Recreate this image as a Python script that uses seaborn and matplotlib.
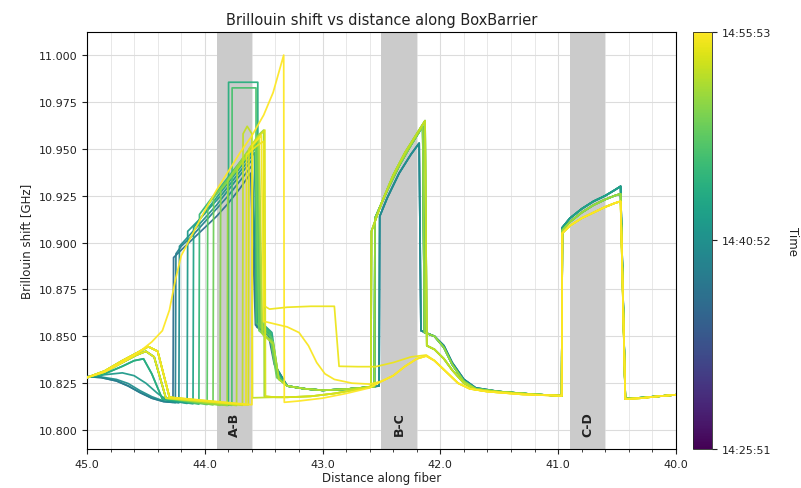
import matplotlib
matplotlib.use("Agg")
import matplotlib.pyplot as plt
import matplotlib.ticker as mticker
from matplotlib.colors import Normalize
from matplotlib.cm import ScalarMappable
import seaborn as sns
import pandas as pd

# ---------------- data ----------------
# colour scale: fraction of the scan window 14:25:51 -> 14:55:53
CBAR_TICKS = [0.0, 0.5, 1.0]
CBAR_LABELS = ["14:25:51", "14:40:52", "14:55:53"]

SECTIONS = ["A-B", "B-C", "C-D"]
SECTION_START = [43.9, 42.5, 40.9]
SECTION_END = [43.6, 42.2, 40.6]

# head pieces (45.0 -> ~44.3)
HEAD_DIP_X = [45.0, 44.88, 44.75, 44.65, 44.55, 44.45, 44.35]
HEAD_DIP_Y = [10.8285, 10.8280, 10.8262, 10.8235, 10.8200, 10.8170, 10.8152]
HEAD_DIP2_X = [45.0, 44.88, 44.75, 44.65, 44.55, 44.45, 44.35]
HEAD_DIP2_Y = [10.8285, 10.8283, 10.8270, 10.8248, 10.8210, 10.8178, 10.8155]
HEAD_FLAT_X = [45.0, 44.85, 44.7, 44.6, 44.5, 44.4, 44.32]
HEAD_FLAT_Y = [10.828, 10.8295, 10.8305, 10.829, 10.825, 10.8195, 10.816]
HEAD_HUMP1_X = [45.0, 44.85, 44.7, 44.6, 44.52, 44.45, 44.36]
HEAD_HUMP1_Y = [10.828, 10.830, 10.834, 10.837, 10.838, 10.830, 10.8165]
HEAD_HUMP2_X = [45.0, 44.85, 44.7, 44.58, 44.5, 44.43, 44.33]
HEAD_HUMP2_Y = [10.828, 10.831, 10.836, 10.840, 10.842, 10.839, 10.817]
HEAD_HUMP3_X = [45.0, 44.85, 44.7, 44.58, 44.48, 44.4, 44.3]
HEAD_HUMP3_Y = [10.828, 10.8315, 10.837, 10.841, 10.8445, 10.842, 10.8175]
HEAD_RISE_X = [45.0, 44.85, 44.7, 44.55, 44.45, 44.36, 44.3, 44.25, 44.2]
HEAD_RISE_Y = [10.828, 10.831, 10.836, 10.842, 10.847, 10.853, 10.864, 10.880, 10.893]

# A-B section pieces, one per trace
AB_T1_X = [44.27, 44.265, 44.2, 44.1, 44.0, 43.9, 43.8, 43.7, 43.61, 43.57, 43.46, 43.41]
AB_T1_Y = [10.8148, 10.892, 10.896, 10.902, 10.908, 10.914, 10.921, 10.929, 10.937, 10.856, 10.851, 10.835]
AB_T2_X = [44.25, 44.245, 44.2, 44.1, 44.0, 43.9, 43.8, 43.7, 43.6, 43.56, 43.45, 43.40]
AB_T2_Y = [10.8146, 10.894, 10.898, 10.904, 10.911, 10.918, 10.925, 10.933, 10.941, 10.855, 10.850, 10.834]
AB_T3_X = [44.22, 44.215, 44.1, 44.0, 43.9, 43.8, 43.7, 43.6, 43.55, 43.45, 43.39]
AB_T3_Y = [10.8145, 10.898, 10.906, 10.913, 10.920, 10.928, 10.936, 10.944, 10.857, 10.852, 10.833]
AB_T4_X = [44.15, 44.145, 44.05, 43.95, 43.85, 43.75, 43.65, 43.58, 43.55, 43.44, 43.39]
AB_T4_Y = [10.8142, 10.906, 10.912, 10.919, 10.926, 10.934, 10.942, 10.948, 10.856, 10.850, 10.832]
AB_T5_X = [44.10, 44.095, 44.0, 43.9, 43.8, 43.7, 43.6, 43.56, 43.53, 43.43, 43.38]
AB_T5_Y = [10.814, 10.908, 10.916, 10.924, 10.932, 10.940, 10.948, 10.951, 10.858, 10.852, 10.830]
AB_BOX1_X = [43.80, 43.798, 43.55, 43.548, 43.44, 43.38]
AB_BOX1_Y = [10.8132, 10.9855, 10.9855, 10.856, 10.851, 10.829]
AB_BOX2_X = [43.77, 43.768, 43.565, 43.563, 43.45, 43.39]
AB_BOX2_Y = [10.8132, 10.9825, 10.9825, 10.857, 10.852, 10.830]
AB_T7_X = [44.05, 44.045, 43.95, 43.85, 43.75, 43.65, 43.57, 43.54, 43.44, 43.39]
AB_T7_Y = [10.8138, 10.915, 10.923, 10.931, 10.939, 10.947, 10.953, 10.858, 10.852, 10.830]
AB_T8_X = [43.98, 43.975, 43.9, 43.8, 43.7, 43.6, 43.56, 43.53, 43.43, 43.38]
AB_T8_Y = [10.8136, 10.920, 10.926, 10.934, 10.942, 10.950, 10.953, 10.855, 10.849, 10.828]
AB_T9_X = [43.93, 43.925, 43.85, 43.75, 43.65, 43.57, 43.54, 43.44, 43.39]
AB_T9_Y = [10.8134, 10.924, 10.930, 10.938, 10.946, 10.952, 10.853, 10.848, 10.828]
AB_T10_X = [43.87, 43.865, 43.8, 43.7, 43.6, 43.55, 43.52, 43.42, 43.37]
AB_T10_Y = [10.8132, 10.928, 10.933, 10.941, 10.950, 10.955, 10.852, 10.847, 10.827]
AB_T11_X = [43.81, 43.805, 43.7, 43.6, 43.55, 43.50, 43.495, 43.4]
AB_T11_Y = [10.8131, 10.933, 10.943, 10.952, 10.957, 10.960, 10.818, 10.8175]
AB_T12_X = [43.73, 43.725, 43.65, 43.6, 43.54, 43.51, 43.42, 43.37]
AB_T12_Y = [10.8131, 10.939, 10.946, 10.951, 10.956, 10.851, 10.846, 10.827]
AB_T13_X = [43.68, 43.675, 43.64, 43.60, 43.595, 43.4]
AB_T13_Y = [10.8132, 10.958, 10.962, 10.958, 10.8172, 10.8175]
AB_T14_X = [43.63, 43.625, 43.55, 43.49, 43.485, 43.4]
AB_T14_Y = [10.8134, 10.950, 10.956, 10.960, 10.818, 10.8175]
AB_T15_X = [43.65, 43.645, 43.55, 43.50, 43.49, 43.45, 43.3, 43.1, 42.9, 42.88, 42.86, 42.7, 42.55]
AB_T15_Y = [10.8134, 10.947, 10.952, 10.954, 10.866, 10.8645, 10.8655, 10.866, 10.866, 10.850, 10.834, 10.8338, 10.8338]
AB_T16_X = [43.60, 43.595, 43.52, 43.50, 43.3, 43.2, 43.12, 43.05, 42.98, 42.9, 42.75, 42.6]
AB_T16_Y = [10.8135, 10.952, 10.957, 10.858, 10.855, 10.852, 10.845, 10.836, 10.830, 10.827, 10.825, 10.8245]
AB_T17_X = [44.1, 44.0, 43.9, 43.8, 43.7, 43.6, 43.5, 43.42, 43.33, 43.325, 43.2, 43.0, 42.8, 42.6]
AB_T17_Y = [10.905, 10.917, 10.928, 10.938, 10.948, 10.957, 10.968, 10.980, 11.000, 10.8148, 10.8155, 10.817, 10.8195, 10.8225]

# between A-B and B-C
MID_X = [43.30, 43.15, 43.0, 42.8, 42.62]
MID_Y = [10.8235, 10.822, 10.8212, 10.8218, 10.8228]
MID2_X = [43.3, 43.1, 42.9, 42.75, 42.62]
MID2_Y = [10.8175, 10.818, 10.8195, 10.8212, 10.8228]

# B-C section pieces
BC1_X = [42.52, 42.515, 42.45, 42.35, 42.25, 42.18, 42.165, 42.05, 41.97, 41.9, 41.8, 41.7, 41.5, 41.2, 40.98]
BC1_Y = [10.8235, 10.914, 10.924, 10.937, 10.947, 10.953, 10.853, 10.850, 10.845, 10.836, 10.827, 10.8225, 10.8205, 10.819, 10.8183]
BC2_X = [42.56, 42.555, 42.45, 42.35, 42.25, 42.15, 42.135, 42.05, 41.97, 41.9, 41.8, 41.7, 41.5, 41.2, 40.98]
BC2_Y = [10.823, 10.913, 10.928, 10.941, 10.952, 10.962, 10.852, 10.850, 10.844, 10.835, 10.826, 10.822, 10.8205, 10.819, 10.8183]
BC3_X = [42.59, 42.585, 42.5, 42.4, 42.3, 42.2, 42.13, 42.115, 42.05, 41.97, 41.9, 41.8, 41.7, 41.5, 41.2, 40.98]
BC3_Y = [10.8229, 10.906, 10.921, 10.936, 10.948, 10.958, 10.965, 10.845, 10.843, 10.838, 10.832, 10.825, 10.8215, 10.8203, 10.819, 10.8183]
BCY_X = [42.5, 42.4, 42.3, 42.2, 42.12, 42.05, 41.95, 41.85, 41.75, 41.6, 41.3, 40.98]
BCY_Y = [10.826, 10.829, 10.834, 10.838, 10.8395, 10.837, 10.831, 10.825, 10.822, 10.8205, 10.819, 10.8183]
BCY2_X = [42.4, 42.25, 42.12, 42.05, 41.95, 41.85, 41.75, 41.6, 41.3, 40.98]
BCY2_Y = [10.836, 10.839, 10.840, 10.837, 10.831, 10.825, 10.822, 10.8205, 10.819, 10.8183]

# C-D section pieces
CD_X = [40.97, 40.965, 40.9, 40.8, 40.7, 40.6, 40.52, 40.47, 40.43, 40.3, 40.15, 40.0]
CD1_Y = [10.8182, 10.908, 10.913, 10.918, 10.922, 10.925, 10.928, 10.930, 10.8168, 10.8172, 10.818, 10.8188]
CD2_Y = [10.8182, 10.9065, 10.911, 10.916, 10.920, 10.923, 10.925, 10.926, 10.8168, 10.8172, 10.818, 10.8188]
CD3_Y = [10.8182, 10.905, 10.909, 10.913, 10.916, 10.919, 10.921, 10.922, 10.8165, 10.817, 10.818, 10.8188]

# trace times (colour) and the pieces each trace is made of
TRACE_TIME = [0.36, 0.43, 0.49, 0.54, 0.58, 0.63, 0.67, 0.71, 0.74, 0.78,
              0.82, 0.85, 0.88, 0.91, 0.94, 0.97, 0.99, 1.00]
TRACE_PIECES = [
    [(HEAD_DIP_X, HEAD_DIP_Y), (AB_T1_X, AB_T1_Y), (MID_X, MID_Y), (BC1_X, BC1_Y), (CD_X, CD1_Y)],
    [(HEAD_DIP_X, HEAD_DIP_Y), (AB_T2_X, AB_T2_Y), (MID_X, MID_Y), (BC1_X, BC1_Y), (CD_X, CD1_Y)],
    [(HEAD_DIP2_X, HEAD_DIP2_Y), (AB_T3_X, AB_T3_Y), (MID_X, MID_Y), (BC1_X, BC1_Y), (CD_X, CD1_Y)],
    [(HEAD_FLAT_X, HEAD_FLAT_Y), (AB_T4_X, AB_T4_Y), (MID_X, MID_Y), (BC2_X, BC2_Y), (CD_X, CD1_Y)],
    [(HEAD_HUMP1_X, HEAD_HUMP1_Y), (AB_T5_X, AB_T5_Y), (MID_X, MID_Y), (BC2_X, BC2_Y), (CD_X, CD1_Y)],
    [(HEAD_HUMP1_X, HEAD_HUMP1_Y), (AB_BOX1_X, AB_BOX1_Y), (MID_X, MID_Y), (BC2_X, BC2_Y), (CD_X, CD2_Y)],
    [(HEAD_HUMP2_X, HEAD_HUMP2_Y), (AB_T7_X, AB_T7_Y), (MID_X, MID_Y), (BC2_X, BC2_Y), (CD_X, CD2_Y)],
    [(HEAD_HUMP2_X, HEAD_HUMP2_Y), (AB_BOX2_X, AB_BOX2_Y), (MID_X, MID_Y), (BC3_X, BC3_Y), (CD_X, CD2_Y)],
    [(HEAD_HUMP2_X, HEAD_HUMP2_Y), (AB_T8_X, AB_T8_Y), (MID_X, MID_Y), (BC2_X, BC2_Y), (CD_X, CD2_Y)],
    [(HEAD_HUMP3_X, HEAD_HUMP3_Y), (AB_T9_X, AB_T9_Y), (MID_X, MID_Y), (BC3_X, BC3_Y), (CD_X, CD2_Y)],
    [(HEAD_HUMP3_X, HEAD_HUMP3_Y), (AB_T10_X, AB_T10_Y), (MID_X, MID_Y), (BC3_X, BC3_Y), (CD_X, CD2_Y)],
    [(HEAD_HUMP2_X, HEAD_HUMP2_Y), (AB_T11_X, AB_T11_Y), (MID2_X, MID2_Y), (BC2_X, BC2_Y), (CD_X, CD2_Y)],
    [(HEAD_HUMP3_X, HEAD_HUMP3_Y), (AB_T12_X, AB_T12_Y), (MID_X, MID_Y), (BC3_X, BC3_Y), (CD_X, CD3_Y)],
    [(HEAD_HUMP3_X, HEAD_HUMP3_Y), (AB_T13_X, AB_T13_Y), (MID2_X, MID2_Y), (BC3_X, BC3_Y), (CD_X, CD3_Y)],
    [(HEAD_HUMP3_X, HEAD_HUMP3_Y), (AB_T14_X, AB_T14_Y), (MID2_X, MID2_Y), (BCY_X, BCY_Y), (CD_X, CD3_Y)],
    [(HEAD_HUMP2_X, HEAD_HUMP2_Y), (AB_T15_X, AB_T15_Y), (BCY2_X, BCY2_Y), (CD_X, CD3_Y)],
    [(HEAD_HUMP3_X, HEAD_HUMP3_Y), (AB_T16_X, AB_T16_Y), (BCY_X, BCY_Y), (CD_X, CD3_Y)],
    [(HEAD_RISE_X, HEAD_RISE_Y), (AB_T17_X, AB_T17_Y), (BCY_X, BCY_Y), (CD_X, CD3_Y)],
]

# ---------------- build long table ----------------
rows = []
for i, (t, pieces) in enumerate(zip(TRACE_TIME, TRACE_PIECES)):
    order = 0
    for xs, ys in pieces:
        for x, y in zip(xs, ys):
            rows.append({"trace": i, "time": t, "dist": x, "shift": y, "order": order})
            order += 1
df = pd.DataFrame(rows)

# ---------------- plot ----------------
sns.set_style("white")
plt.rcParams["font.family"] = ["DejaVu Sans"]
plt.rcParams["text.color"] = "#222222"
plt.rcParams["axes.labelcolor"] = "#222222"
plt.rcParams["xtick.color"] = "#222222"
plt.rcParams["ytick.color"] = "#222222"

fig = plt.figure(figsize=(8.01, 4.89), dpi=100)
ax = fig.add_axes([0.1086, 0.0798, 0.7353, 0.8527])
cax = fig.add_axes([0.8652, 0.0798, 0.0237, 0.8527])

for s, e, name in zip(SECTION_START, SECTION_END, SECTIONS):
    ax.axvspan(s, e, color="#cbcbcb", zorder=1, lw=0)
    ax.text((s + e) / 2, 10.8035, name, rotation=90, ha="center", va="center",
            fontsize=9, fontweight="bold", zorder=5)

sns.lineplot(data=df, x="dist", y="shift", hue="time", palette="viridis",
             hue_norm=(0, 1), units="trace", estimator=None, sort=False,
             legend=False, linewidth=1.25, alpha=0.95, ax=ax, zorder=3)

ax.set_xlim(45.0, 40.0)
ax.set_ylim(10.7899, 11.0123)
ax.xaxis.set_major_locator(mticker.MultipleLocator(1.0))
ax.xaxis.set_minor_locator(mticker.MultipleLocator(0.2))
ax.xaxis.set_major_formatter(mticker.FormatStrFormatter("%.1f"))
ax.yaxis.set_major_locator(mticker.MultipleLocator(0.025))
ax.yaxis.set_major_formatter(mticker.FormatStrFormatter("%.3f"))
ax.grid(which="major", color="#dcdcdc", lw=0.8, zorder=0)
ax.grid(which="minor", axis="x", color="#e8e8e8", lw=0.7, zorder=0)
ax.set_axisbelow(True)
ax.tick_params(axis="both", which="major", labelsize=8, length=3.5, bottom=True, left=True)
ax.tick_params(axis="x", which="minor", length=2, bottom=True)
for sp in ax.spines.values():
    sp.set_color("black")
    sp.set_linewidth(0.8)

ax.set_xlabel("Distance along fiber", fontsize=8.5, labelpad=2)
ax.set_ylabel("Brillouin shift [GHz]", fontsize=8.5, labelpad=4)
ax.set_title("Brillouin shift vs distance along BoxBarrier", fontsize=10.5, pad=6)

sm = ScalarMappable(norm=Normalize(0, 1), cmap="viridis")
cb = fig.colorbar(sm, cax=cax, ticks=CBAR_TICKS)
cb.ax.set_yticklabels(CBAR_LABELS, fontsize=8)
cb.outline.set_linewidth(0.6)
cb.set_label("Time", rotation=270, fontsize=8.5, labelpad=20)

fig.savefig("out.png", dpi=100)
